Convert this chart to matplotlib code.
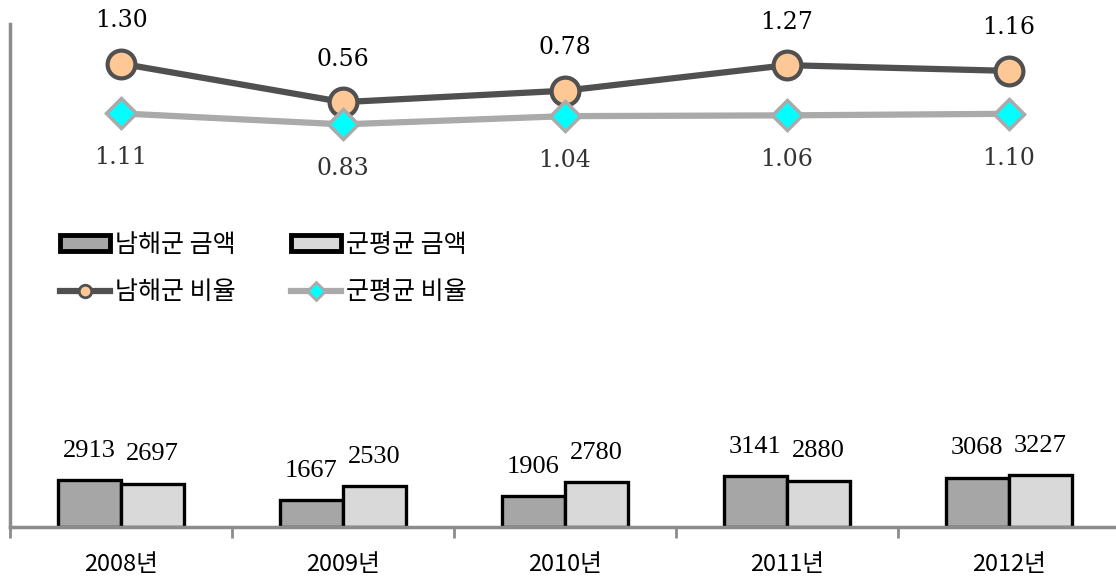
import matplotlib
matplotlib.use("Agg")
import matplotlib.pyplot as plt
import numpy as np

plt.rcParams['font.family'] = ['Noto Sans CJK KR', 'DejaVu Sans']

years = ['2008년', '2009년', '2010년', '2011년', '2012년']
namhae_amt = [2913, 1667, 1906, 3141, 3068]
avg_amt = [2697, 2530, 2780, 2880, 3227]
namhae_ratio = [1.30, 0.56, 0.78, 1.27, 1.16]
avg_ratio = [1.11, 0.83, 1.04, 1.06, 1.10]

fig = plt.figure(figsize=(11.16, 5.85), dpi=100)
ax = fig.add_axes([10/1116, 58.3/585, 1110/1116, 502.7/585])

x = np.arange(len(years))
w = 0.284
b1 = ax.bar(x - w/2, namhae_amt, w, color='#a6a6a6', edgecolor='black', linewidth=2.4, label='남해군 금액')
b2 = ax.bar(x + w/2, avg_amt, w, color='#d9d9d9', edgecolor='black', linewidth=2.4, label='군평균 금액')

for xi, v in zip(x - w/2, namhae_amt):
    ax.annotate(str(v), (xi, v), xytext=(0, 21), textcoords='offset points',
                ha='center', va='center', fontsize=19, family='Liberation Serif')
for xi, v in zip(x + w/2, avg_amt):
    ax.annotate(str(v), (xi, v), xytext=(0, 21), textcoords='offset points',
                ha='center', va='center', fontsize=19, family='Liberation Serif')

ax.set_xlim(-0.5, len(years) - 0.5)
ax.set_ylim(0, 31400)
ax.set_yticks([])
for s in ['top', 'right']:
    ax.spines[s].set_visible(False)
for s in ['left', 'bottom']:
    ax.spines[s].set_color('#8c8c8c')
    ax.spines[s].set_linewidth(2.5)

ax.set_xticks(x)
ax.set_xticklabels(years, fontsize=17)
ax.tick_params(axis='x', which='major', length=0, pad=19)
ax.set_xticks(np.arange(-0.5, len(years), 1), minor=True)
ax.tick_params(axis='x', which='minor', length=8, width=2, color='#8c8c8c', direction='out')

# dark ratio line
ax2 = ax.twinx()
ax2.set_ylim(-7.59, 2.06)
l1, = ax2.plot(x, namhae_ratio, color='#505050', linewidth=4.5, marker='o', markersize=20,
               markerfacecolor='#fdc896', markeredgecolor='#505050', markeredgewidth=3,
               label='남해군 비율')
for xi, v in zip(x, namhae_ratio):
    ax2.annotate(f'{v:.2f}', (xi, v), xytext=(0, 31), textcoords='offset points',
                 ha='center', va='center', fontsize=17, family='DejaVu Serif', color='black')

# gray ratio line
ax3 = ax.twinx()
ax3.set_ylim(-9.43, 3.39)
l2, = ax3.plot(x, avg_ratio, color='#aaaaaa', linewidth=4.5, marker='D', markersize=15,
               markerfacecolor='#00ffff', markeredgecolor='#aaaaaa', markeredgewidth=2.5,
               label='군평균 비율')
for xi, v in zip(x, avg_ratio):
    ax3.annotate(f'{v:.2f}', (xi, v), xytext=(0, -32), textcoords='offset points',
                 ha='center', va='center', fontsize=17, family='DejaVu Serif', color='#333333')

for a in (ax2, ax3):
    a.set_yticks([])
    for s in a.spines.values():
        s.set_visible(False)

leg = fig.legend([b1, l1, b2, l2], ['남해군 금액', '남해군 비율', '군평균 금액', '군평균 비율'],
                 ncol=2, loc='upper left', bbox_to_anchor=(50/1116, 1 - 222/585),
                 frameon=False, fontsize=18, handlelength=2.0, handleheight=0.6,
                 handletextpad=0.2, columnspacing=2.2, labelspacing=0.85, borderaxespad=0)
for h in leg.legend_handles:
    if hasattr(h, 'set_markersize'):
        h.set_markersize(9)
        h.set_markeredgewidth(2)
    else:
        h.set_linewidth(3.5)

fig.savefig('out.png', dpi=100)
